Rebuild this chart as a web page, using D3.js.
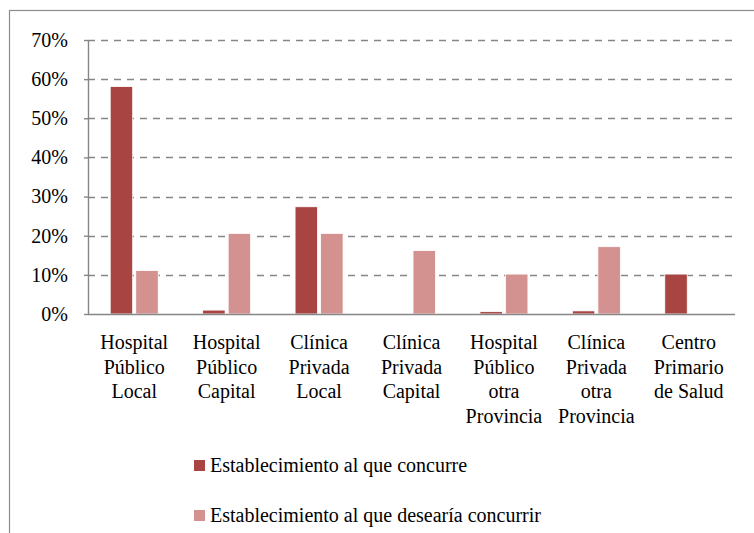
<!DOCTYPE html>
<html>
<head>
<meta charset="utf-8">
<script src="https://cdn.jsdelivr.net/npm/d3@7"></script>
<style>
  body { margin:0; background:#fff; }
  svg text { font-family:"Liberation Serif", "Times New Roman", "DejaVu Serif", serif !important; fill:#000; }
</style>
</head>
<body>
<script>
var categories = ["Hospital Público Local", "Hospital Público Capital", "Clínica Privada Local",
                  "Clínica Privada Capital", "Hospital Público otra Provincia",
                  "Clínica Privada otra Provincia", "Centro Primario de Salud"];
var seriesNames = ["Establecimiento al que concurre", "Establecimiento al que desearía concurrir"];
var concurre = [58.1, 1.0, 27.4, 0, 0.6, 0.8, 10.2];
var desearia = [11.1, 20.6, 20.6, 16.2, 10.2, 17.2, 0.2];
var yTicks = [0, 10, 20, 30, 40, 50, 60, 70];
var colors = ["#A84543", "#D39190"];

var W = 754, H = 533;
var margin = {left:88, right:19, top:40, bottom:219};
var width = W - margin.left - margin.right;
var height = H - margin.top - margin.bottom;
var FONT = "'Liberation Serif', 'Times New Roman', 'DejaVu Serif', serif";

var svg = d3.select("body").append("svg").attr("width", W).attr("height", H);

// outer frame (runs off the right and bottom edges)
svg.append("rect")
    .attr("x", 9.5).attr("y", 10.5)
    .attr("width", 800).attr("height", 600)
    .attr("fill", "none").attr("stroke", "#8c8c8c").attr("stroke-width", 1.2);

var chart = svg.append("g").attr("transform", "translate(" + margin.left + "," + margin.top + ")");

var x = d3.scaleBand().domain(categories).range([0, width]);
var x1 = d3.scaleBand().domain(seriesNames).range([x.bandwidth()/2 - 24, x.bandwidth()/2 + 24]).paddingInner(0.12);
var y = d3.scaleLinear().domain([0, 70]).range([height, 0]);

// gridlines
chart.append("g").selectAll("line")
    .data(yTicks.filter(function(d){ return d > 0; }))
    .enter().append("line")
    .attr("x1", 0).attr("x2", width)
    .attr("y1", function(d){ return Math.round(y(d)) + 0.5; })
    .attr("y2", function(d){ return Math.round(y(d)) + 0.5; })
    .attr("stroke", "#868686").attr("stroke-width", 1.4)
    .attr("stroke-dasharray", "7,6");

// y axis
var yAxis = d3.axisLeft(y).tickValues(yTicks).tickSize(4).tickPadding(16)
    .tickFormat(function(d){ return d + "%"; });
var gy = chart.append("g").call(yAxis).attr("font-family", FONT).attr("font-size", 20);
gy.select(".domain").attr("stroke", "#868686").attr("stroke-width", 1.4).attr("d", "M0.5," + y(0) + "V" + y(70));
gy.selectAll(".tick line").attr("stroke", "#868686").attr("stroke-width", 1.4);
gy.selectAll(".tick text").attr("fill", "#000");

// bars
var series = [concurre, desearia];
series.forEach(function(vals, s){
  chart.append("g").selectAll("rect")
      .data(vals)
      .enter().append("rect")
      .attr("x", function(d, i){ return x(categories[i]) + x1(seriesNames[s]); })
      .attr("width", x1.bandwidth())
      .attr("y", function(d){ return y(d); })
      .attr("height", function(d){ return y(0) - y(d); })
      .attr("fill", colors[s])
      .attr("stroke", "#fff").attr("stroke-width", 0.8);
});

// x axis line
chart.append("line")
    .attr("x1", 0).attr("x2", width)
    .attr("y1", y(0) + 0.5).attr("y2", y(0) + 0.5)
    .attr("stroke", "#868686").attr("stroke-width", 1.6);

// category labels, word wrapped to the band width
var labels = chart.append("g").attr("font-family", FONT).attr("font-size", 20)
    .selectAll("text")
    .data(categories)
    .enter().append("text")
    .attr("text-anchor", "middle")
    .attr("transform", function(d){ return "translate(" + (x(d) + x.bandwidth()/2) + "," + (height + 35) + ")"; });

labels.each(function(d){
  var t = d3.select(this);
  var words = d.split(" ");
  var lines = [], cur = "";
  var probe = t.append("tspan");
  words.forEach(function(w){
    var test = cur ? cur + " " + w : w;
    probe.text(test);
    if (cur && probe.node().getComputedTextLength() > x.bandwidth() - 4) {
      lines.push(cur); cur = w;
    } else {
      cur = test;
    }
  });
  lines.push(cur);
  probe.remove();
  lines.forEach(function(l, i){
    t.append("tspan").attr("x", 0).attr("y", i * 24.7).text(l);
  });
});

// legend
var legend = svg.append("g").attr("font-family", FONT).attr("font-size", 20)
    .selectAll("g")
    .data(seriesNames)
    .enter().append("g")
    .attr("transform", function(d, i){ return "translate(194," + (466 + i * 50) + ")"; });
legend.append("rect")
    .attr("x", 0).attr("y", -6).attr("width", 11).attr("height", 11)
    .attr("fill", function(d, i){ return colors[i]; });
legend.append("text")
    .attr("x", 16).attr("y", 6)
    .text(function(d){ return d; });
</script>
</body>
</html>
